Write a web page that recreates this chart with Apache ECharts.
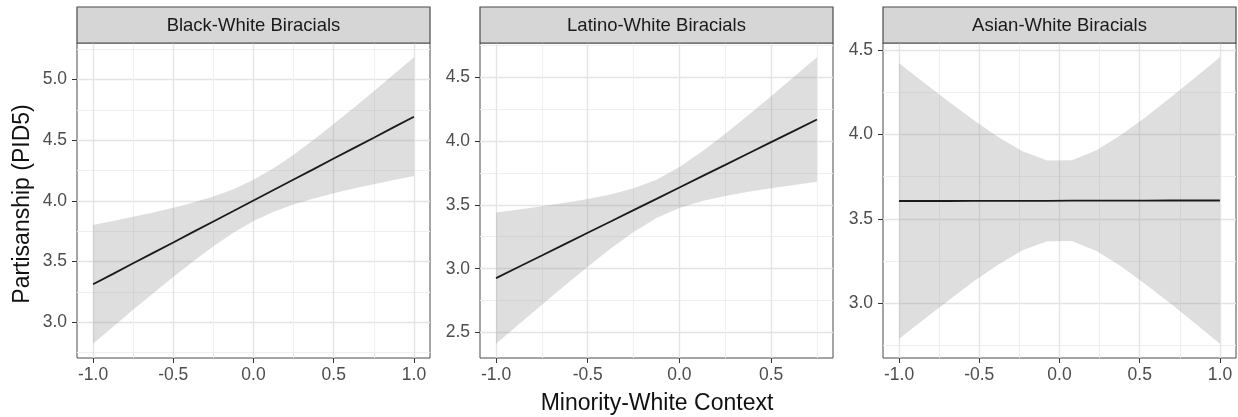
<!DOCTYPE html>
<html>
<head>
<meta charset="utf-8">
<script src="https://cdn.jsdelivr.net/npm/echarts@6/dist/echarts.min.js"></script>
<style>html,body{margin:0;padding:0;background:#fff}#c{width:1238px;height:417px}</style>
</head>
<body>
<div id="c"></div>
<script>
// ---------- data ----------
const panelTitles = ['Black-White Biracials', 'Latino-White Biracials', 'Asian-White Biracials'];
const xAxisTitle = 'Minority-White Context';
const yAxisTitle = 'Partisanship (PID5)';

// Black-White panel
const bwX     = [-1, -0.875, -0.75, -0.625, -0.5, -0.375, -0.25, -0.125, 0, 0.125, 0.25, 0.375, 0.5, 0.625, 0.75, 0.875, 1];
const bwFit   = [3.313, 3.399, 3.486, 3.572, 3.658, 3.745, 3.831, 3.917, 4.004, 4.090, 4.176, 4.262, 4.349, 4.435, 4.521, 4.608, 4.694];
const bwUpper = [3.802, 3.835, 3.869, 3.905, 3.943, 3.987, 4.036, 4.096, 4.174, 4.269, 4.381, 4.504, 4.634, 4.768, 4.904, 5.044, 5.183];
const bwLower = [2.824, 2.963, 3.103, 3.239, 3.373, 3.503, 3.626, 3.738, 3.834, 3.911, 3.971, 4.020, 4.064, 4.102, 4.138, 4.172, 4.205];

// Latino-White panel
const lwX     = [-1, -0.875, -0.75, -0.625, -0.5, -0.375, -0.25, -0.125, 0, 0.125, 0.25, 0.375, 0.5, 0.625, 0.75];
const lwFit   = [2.926, 3.015, 3.103, 3.192, 3.281, 3.369, 3.458, 3.546, 3.635, 3.724, 3.812, 3.901, 3.990, 4.078, 4.167];
const lwUpper = [3.439, 3.464, 3.488, 3.515, 3.546, 3.581, 3.629, 3.696, 3.795, 3.918, 4.055, 4.200, 4.350, 4.501, 4.654];
const lwLower = [2.413, 2.566, 2.718, 2.869, 3.016, 3.157, 3.287, 3.396, 3.475, 3.530, 3.569, 3.602, 3.630, 3.655, 3.680];

// Asian-White panel
const awX     = [-1, -0.846, -0.692, -0.538, -0.385, -0.231, -0.077, 0.077, 0.231, 0.385, 0.538, 0.692, 0.846, 1];
const awFit   = [3.606, 3.606, 3.606, 3.607, 3.607, 3.607, 3.607, 3.608, 3.608, 3.608, 3.608, 3.609, 3.609, 3.609];
const awUpper = [4.424, 4.309, 4.196, 4.088, 3.988, 3.901, 3.847, 3.848, 3.907, 3.999, 4.105, 4.221, 4.339, 4.459];
const awLower = [2.788, 2.903, 3.016, 3.126, 3.226, 3.313, 3.367, 3.368, 3.309, 3.217, 3.111, 2.997, 2.879, 2.759];

// axis limits and ticks
const bwXLim = [-1.1, 1.1],       bwYLim = [2.706, 5.301];
const lwXLim = [-1.0875, 0.8375], lwYLim = [2.301, 4.766];
const awXLim = [-1.1, 1.1],       awYLim = [2.674, 4.544];

const xTicksFull  = [-1, -0.5, 0, 0.5, 1];
const xTicksLW    = [-1, -0.5, 0, 0.5];
const xMinorTicks = [-0.75, -0.25, 0.25, 0.75];
const bwYTicks = [3, 3.5, 4, 4.5, 5];
const bwYMinor = [2.75, 3.25, 3.75, 4.25, 4.75, 5.25];
const lwYTicks = [2.5, 3, 3.5, 4, 4.5];
const lwYMinor = [2.75, 3.25, 3.75, 4.25, 4.75];
const awYTicks = [3, 3.5, 4, 4.5];
const awYMinor = [2.75, 3.25, 3.75, 4.25];

// ---------- layout ----------
const FONT = '"Liberation Sans", Arial, Helvetica, sans-serif';
const lefts = [77, 480, 883];
const W = 353, TOP = 43, H = 315, STRIP_TOP = 7;

const panels = [
  {title: panelTitles[0], x: bwX, fit: bwFit, hi: bwUpper, lo: bwLower, xlim: bwXLim, ylim: bwYLim, xt: xTicksFull, xm: xMinorTicks, yt: bwYTicks, ym: bwYMinor},
  {title: panelTitles[1], x: lwX, fit: lwFit, hi: lwUpper, lo: lwLower, xlim: lwXLim, ylim: lwYLim, xt: xTicksLW,   xm: xMinorTicks, yt: lwYTicks, ym: lwYMinor},
  {title: panelTitles[2], x: awX, fit: awFit, hi: awUpper, lo: awLower, xlim: awXLim, ylim: awYLim, xt: xTicksFull, xm: xMinorTicks, yt: awYTicks, ym: awYMinor}
];

const grid = [], xAxis = [], yAxis = [], series = [], graphic = [];
const fmt = v => Number(v).toFixed(1);
const MAJOR = {color: '#e4e4e4', width: 1.4};
const MINOR = {color: '#efefef', width: 1};

panels.forEach((p, i) => {
  grid.push({left: lefts[i], top: TOP, width: W, height: H, show: true,
             borderColor: '#4a4a4a', borderWidth: 1, backgroundColor: '#fff'});
  // major x axis
  xAxis.push({gridIndex: i, type: 'value', min: p.xlim[0], max: p.xlim[1], position: 'bottom',
    axisLine: {show: false, onZero: false},
    axisTick: {show: true, length: 5, customValues: p.xt, lineStyle: {color: '#333', width: 1}},
    axisLabel: {customValues: p.xt, formatter: fmt, color: '#4d4d4d', fontSize: 17.5, fontFamily: FONT, margin: 8},
    splitLine: {show: true, lineStyle: MAJOR}
  });
  // minor x axis (grid lines only)
  xAxis.push({gridIndex: i, type: 'value', min: p.xlim[0], max: p.xlim[1], position: 'top',
    axisLine: {show: false, onZero: false}, axisTick: {show: false, customValues: p.xm},
    axisLabel: {show: false, customValues: p.xm},
    splitLine: {show: true, lineStyle: MINOR}
  });
  yAxis.push({gridIndex: i, type: 'value', min: p.ylim[0], max: p.ylim[1], position: 'left',
    axisLine: {show: false, onZero: false},
    axisTick: {show: true, length: 5, customValues: p.yt, lineStyle: {color: '#333', width: 1}},
    axisLabel: {customValues: p.yt, formatter: fmt, color: '#4d4d4d', fontSize: 17.5, fontFamily: FONT, margin: 10},
    splitLine: {show: true, lineStyle: MAJOR}
  });
  yAxis.push({gridIndex: i, type: 'value', min: p.ylim[0], max: p.ylim[1], position: 'right',
    axisLine: {show: false, onZero: false}, axisTick: {show: false, customValues: p.ym},
    axisLabel: {show: false, customValues: p.ym},
    splitLine: {show: true, lineStyle: MINOR}
  });

  // confidence ribbon
  series.push({
    type: 'custom', xAxisIndex: 2 * i, yAxisIndex: 2 * i, silent: true, z: 2,
    data: p.x.map((x, k) => [x, p.lo[k], p.hi[k]]),
    encode: {x: 0, y: [1, 2]},
    renderItem: (params, api) => {
      if (params.dataIndex !== 0) return null;
      const pts = [];
      for (let k = 0; k < p.x.length; k++) pts.push(api.coord([p.x[k], p.hi[k]]));
      for (let k = p.x.length - 1; k >= 0; k--) pts.push(api.coord([p.x[k], p.lo[k]]));
      return {type: 'polygon', shape: {points: pts}, style: {fill: 'rgba(153,153,153,0.32)', stroke: null}};
    }
  });
  // fitted line
  series.push({
    type: 'line', xAxisIndex: 2 * i, yAxisIndex: 2 * i, z: 3, silent: true,
    data: p.x.map((x, k) => [x, p.fit[k]]),
    showSymbol: false, symbol: 'none',
    lineStyle: {color: '#1a1a1a', width: 1.8}
  });

  // facet strip
  graphic.push({type: 'rect', shape: {x: lefts[i], y: STRIP_TOP, width: W, height: TOP - STRIP_TOP},
    style: {fill: '#d6d6d6', stroke: '#4a4a4a', lineWidth: 1.2}, z: 10});
  graphic.push({type: 'text', x: lefts[i] + W / 2, y: (STRIP_TOP + TOP) / 2 + 1,
    style: {text: p.title, fill: '#1a1a1a', fontSize: 18.5, fontFamily: FONT, align: 'center', verticalAlign: 'middle'}, z: 11});
});

graphic.push({type: 'text', x: 23, y: 204, rotation: Math.PI / 2,
  style: {text: yAxisTitle, fill: '#111', fontSize: 23, fontFamily: FONT, align: 'center', verticalAlign: 'middle'}});
graphic.push({type: 'text', x: 657, y: 404,
  style: {text: xAxisTitle, fill: '#111', fontSize: 23, fontFamily: FONT, align: 'center', verticalAlign: 'middle'}});

const chart = echarts.init(document.getElementById('c'), null, {renderer: 'canvas'});
chart.setOption({
  animation: false,
  backgroundColor: '#fff',
  grid, xAxis, yAxis, series, graphic
});
</script>
</body>
</html>
